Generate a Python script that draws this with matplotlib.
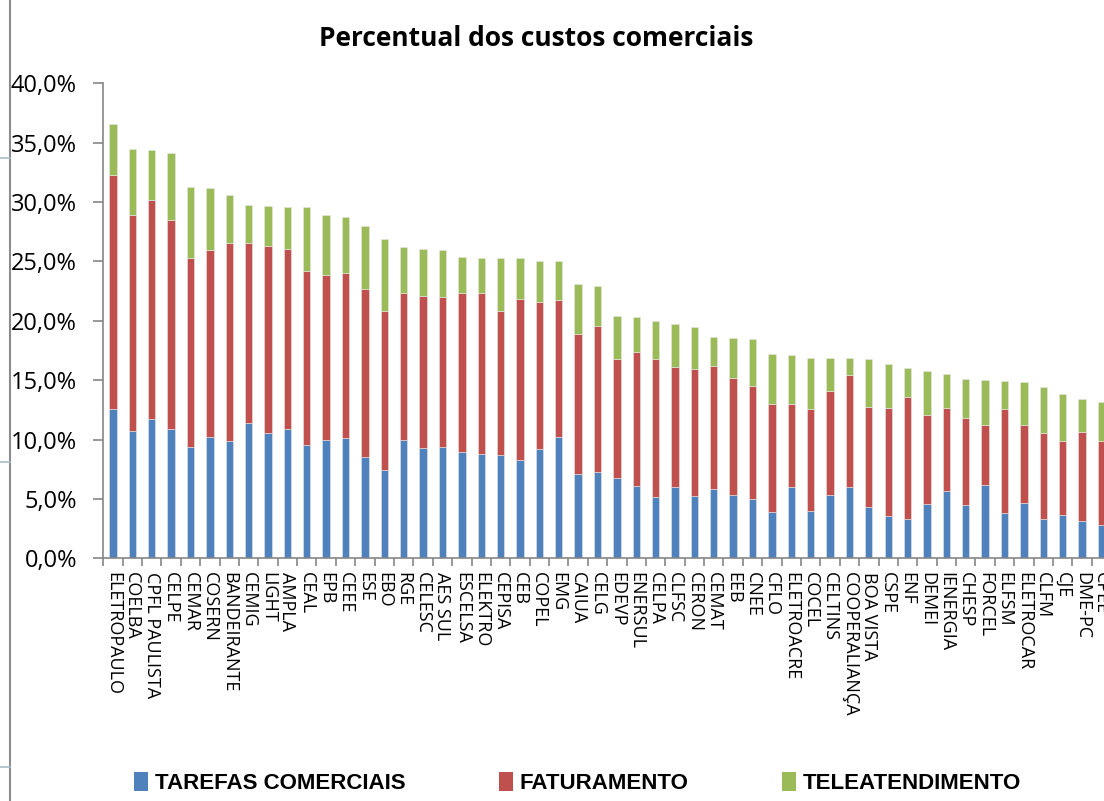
import matplotlib
matplotlib.use("Agg")
import matplotlib.pyplot as plt
from matplotlib import font_manager
from matplotlib.patches import Patch
from matplotlib.lines import Line2D
from matplotlib.ticker import FuncFormatter, FixedLocator
import numpy as np

# Distribuidoras, ordenadas pelo total
empresas = ["ELETROPAULO", "COELBA", "CPFL PAULISTA", "CELPE", "CEMAR", "COSERN",
            "BANDEIRANTE", "CEMIG", "LIGHT", "AMPLA", "CEAL", "EPB", "CEEE", "ESE",
            "EBO", "RGE", "CELESC", "AES SUL", "ESCELSA", "ELEKTRO", "CEPISA", "CEB",
            "COPEL", "EMG", "CAIUA", "CELG", "EDEVP", "ENERSUL", "CELPA", "CLFSC",
            "CERON", "CEMAT", "EEB", "CNEE", "CFLO", "ELETROACRE", "COCEL", "CELTINS",
            "COOPERALIANÇA", "BOA VISTA", "CSPE", "ENF", "DEMEI", "IENERGIA", "CHESP",
            "FORCEL", "ELFSM", "ELETROCAR", "CLFM", "CJE", "DME-PC", "CPEE"]

# percentuais (%) por componente
tarefas = [12.55, 10.72, 11.71, 10.86, 9.35, 10.22, 9.85, 11.42, 10.58, 10.92, 9.52, 9.96,
           10.13, 8.51, 7.41, 9.99, 9.32, 9.40, 8.93, 8.79, 8.73, 8.25, 9.21, 10.19, 7.13,
           7.27, 6.76, 6.09, 5.16, 5.98, 5.25, 5.87, 5.37, 5.02, 3.90, 5.98, 3.96, 5.31,
           5.98, 4.32, 3.59, 3.34, 4.58, 5.70, 4.52, 6.15, 3.79, 4.66, 3.28, 3.62, 3.12, 2.78]
faturamento = [19.76, 18.19, 18.49, 17.66, 15.94, 15.72, 16.73, 15.16, 15.75, 15.13, 14.70,
               13.90, 13.90, 14.20, 13.42, 12.35, 12.77, 12.61, 13.41, 13.55, 12.10, 13.62,
               12.40, 11.59, 11.79, 12.32, 10.03, 11.31, 11.65, 10.13, 10.69, 10.35, 9.82,
               9.52, 9.10, 7.04, 8.62, 8.78, 9.46, 8.42, 9.07, 10.22, 7.46, 6.96, 7.30, 5.08,
               8.81, 6.60, 7.30, 6.26, 7.55, 7.13]
teleatendimento = [4.27, 5.56, 4.19, 5.61, 5.98, 5.22, 3.99, 3.15, 3.31, 3.54, 5.34, 5.02,
                   4.69, 5.25, 6.06, 3.91, 3.93, 3.95, 3.01, 2.98, 4.46, 3.39, 3.40, 3.22,
                   4.21, 3.34, 3.65, 2.92, 3.20, 3.60, 3.54, 2.45, 3.34, 3.90, 4.18, 4.07,
                   4.32, 2.75, 1.40, 4.07, 3.68, 2.44, 3.76, 2.86, 3.25, 3.79, 2.31, 3.59,
                   3.88, 3.96, 2.72, 3.28]

series = ["TAREFAS COMERCIAIS", "FATURAMENTO", "TELEATENDIMENTO"]
cores = ["#4F81BD", "#C0504D", "#9BBB59"]

plt.rcParams['font.family'] = ['Open Sans', 'DejaVu Sans']

# legenda em fonte estreita, se houver
nomes = {f.name for f in font_manager.fontManager.ttflist}
if 'Liberation Sans Narrow' in nomes:
    leg_font = {'family': 'Liberation Sans Narrow', 'weight': 'bold', 'size': 18}
else:
    leg_font = {'family': 'Liberation Sans', 'weight': 'bold', 'size': 16}

fig = plt.figure(figsize=(11.04, 8.01), dpi=100)
ax = fig.add_axes([103.3 / 1104, 1 - 558.3 / 801, 1 - 103.3 / 1104, 475 / 801])

x = np.arange(len(empresas))
base = np.zeros(len(empresas))
for vals, cor in zip([tarefas, faturamento, teleatendimento], cores):
    ax.bar(x, vals, width=0.38, bottom=base, color=cor, edgecolor='#e8e8e8', linewidth=0.4)
    base = base + np.array(vals)

ax.set_ylim(0, 40)
ax.set_xlim(-0.5, -0.5 + (1104 - 103.3) / 19.38)
ax.set_yticks(np.arange(0, 41, 5))
ax.yaxis.set_major_formatter(FuncFormatter(lambda v, p: f"{v:.1f}%".replace('.', ',')))
ax.tick_params(axis='y', labelsize=17, length=7, width=1.2, color='#868686', pad=12)

# rotulos no centro, marcas entre as categorias
ax.set_xticks(x)
ax.set_xticklabels(empresas, rotation=270, fontsize=13, va='top', ha='center')
ax.xaxis.set_minor_locator(FixedLocator(np.arange(-0.5, len(empresas), 1)))
ax.tick_params(axis='x', which='major', length=0, pad=10)
ax.tick_params(axis='x', which='minor', length=6, width=1.2, color='#868686')

for s in ['top', 'right']:
    ax.spines[s].set_visible(False)
for s in ['left', 'bottom']:
    ax.spines[s].set_color('#868686')
    ax.spines[s].set_linewidth(1.2)

fig.text(0.486, 1 - 38 / 801, "Percentual dos custos comerciais", ha='center', va='center',
         fontsize=19, fontweight='bold')

handles = [Patch(facecolor=c, edgecolor='none') for c in cores]
fig.legend(handles, series, loc='center', bbox_to_anchor=(0.523, 1 - 783 / 801), ncol=3,
           frameon=False, prop=leg_font,
           handlelength=0.65, handleheight=0.9, handletextpad=0.3, columnspacing=4.2)

# borda da planilha a esquerda
fig.add_artist(Line2D([10 / 1104, 10 / 1104], [0, 1], color='#8c8c8c', lw=1.5))
for yy in [158, 462, 767]:
    fig.add_artist(Line2D([0, 10 / 1104], [1 - yy / 801] * 2, color='#a9bcc9', lw=1.2))

fig.savefig("out.png", dpi=100)
